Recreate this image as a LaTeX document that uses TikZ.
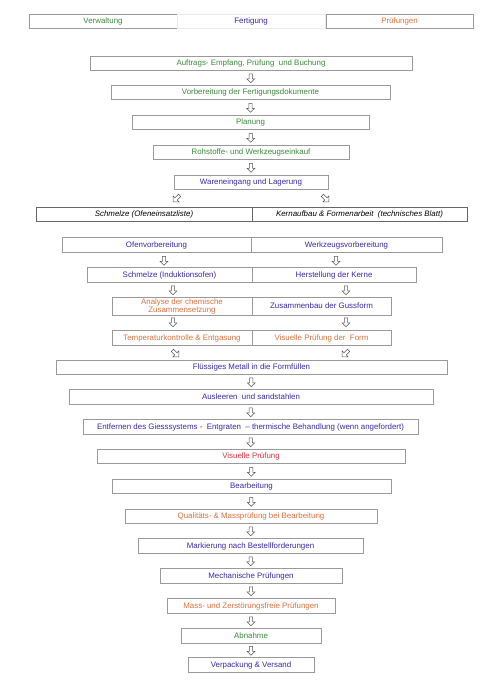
\documentclass[tikz,border=0pt]{standalone}
\usepackage{fontspec}
\setmainfont{Liberation Sans}
\usetikzlibrary{shapes.arrows,calc}
\definecolor{vgreen}{HTML}{3C8A3C}
\definecolor{vblue}{HTML}{3A2AA6}
\definecolor{vorange}{HTML}{D9733F}
\definecolor{vred}{HTML}{D8323C}
\definecolor{boxgray}{HTML}{9A9A9A}
\begin{document}
\begin{tikzpicture}[x=1pt,y=-1pt,
  box/.style={draw=boxgray, line width=0.45pt, fill=white, inner sep=0.5pt,
    text height=6.4pt, text depth=1.2pt,
    font=\fontsize{7.9}{8.4}\selectfont, align=center},
  gbox/.style={box, text=vgreen},
  bbox/.style={box, text=vblue},
  obox/.style={box, text=vorange},
  rbox/.style={box, text=vred},
  kbox/.style={box, text=black, line width=0.5pt, draw=black!60, font=\fontsize{7.9}{8.4}\selectfont\itshape},
  darr/.style={draw=black!65, line width=0.5pt, fill=white, single arrow,
    minimum height=9pt, inner sep=1.4pt, single arrow head extend=2.4pt,
    single arrow head indent=0pt},
  down/.style={darr, rotate=-90},
  dleft/.style={darr, rotate=-135},
  dright/.style={darr, rotate=-45},
]
\useasboundingbox (0,0) rectangle (500,688);

% header
\node[gbox, minimum width=148pt, minimum height=14pt] (verw) at (103,21) {Verwaltung};
\node[bbox, draw=black!8, minimum width=148pt, minimum height=14pt] (fert) at (251,21) {Fertigung};
\node[obox, minimum width=147pt, minimum height=14pt] (pruef) at (399.5,21) {Prüfungen};

% main upper chain
\node[gbox, minimum width=322pt, minimum height=14pt] (auf) at (251,63) {Auftrags- Empfang, Prüfung\ \ und Buchung};
\node[gbox, minimum width=279pt, minimum height=14pt] (vor) at (250.5,92) {Vorbereitung der Fertigungsdokumente};
\node[gbox, minimum width=237pt, minimum height=14pt] (plan) at (250.5,122) {Planung};
\node[gbox, minimum width=196pt, minimum height=14pt] (roh) at (251,152) {Rohstoffe- und Werkzeugseinkauf};
\node[bbox, minimum width=154pt, minimum height=14pt] (ware) at (251,182) {Wareneingang und Lagerung};

\node[down] (a1) at ($(auf.south)!0.5!(vor.north)$) {};
\node[down] (a2) at ($(vor.south)!0.5!(plan.north)$) {};
\node[down] (a3) at ($(plan.south)!0.5!(roh.north)$) {};
\node[down] (a4) at ($(roh.south)!0.5!(ware.north)$) {};

\node[dleft] (d1) at (177,198) {};
\node[dright] (d2) at (325,198) {};

% split rows
\node[kbox, minimum width=216pt, minimum height=14pt] (schm) at (144,214) {Schmelze (Ofeneinsatzliste)};
\node[kbox, minimum width=215pt, minimum height=14pt] (kern) at (359.5,214) {Kernaufbau \& Formenarbeit\ \ (technisches Blatt)};

\node[bbox, minimum width=189pt, minimum height=15pt] (ofen) at (156.5,244.5) {Ofenvorbereitung};
\node[bbox, minimum width=191pt, minimum height=15pt] (werk) at (346.5,244.5) {Werkzeugsvorbereitung};

\node[bbox, minimum width=165pt, minimum height=15pt] (induk) at (169.5,274.5) {Schmelze (Induktionsofen)};
\node[bbox, minimum width=164pt, minimum height=15pt] (kerne) at (334,274.5) {Herstellung der Kerne};

\node[obox, text height=, text depth=, minimum width=140pt, minimum height=18pt] (anal) at (182,306.5) {Analyse der chemische\\Zusammensetzung};
\node[bbox, minimum width=139pt, minimum height=18pt] (zus) at (321.5,306) {Zusammenbau der Gussform};

\node[obox, minimum width=140pt, minimum height=15pt] (temp) at (182,337.5) {Temperaturkontrolle \& Entgasung};
\node[obox, minimum width=139pt, minimum height=15pt] (visf) at (321.5,337.5) {Visuelle Prüfung der\ \ Form};

\node[down] (b1) at (164,260) {};
\node[down] (b2) at (336,260) {};
\node[down] (b3) at (173,289.5) {};
\node[down] (b4) at (346,289.5) {};
\node[down] (b5) at (173,321.5) {};
\node[down] (b6) at (346,321.5) {};

\node[dright] (d3) at (175,353) {};
\node[dleft] (d4) at (346,353) {};

% lower chain
\node[bbox, minimum width=391pt, minimum height=14pt] (flus) at (251.5,367) {Flüssiges Metall in die Formfüllen};
\node[bbox, minimum width=364pt, minimum height=15pt] (ausl) at (251,396.5) {Ausleeren\ \ und sandstahlen};
\node[bbox, minimum width=335pt, minimum height=15pt] (entf) at (250.5,426.5) {Entfernen des Giesssystems -\ \ Entgraten\ \ -- thermische Behandlung (wenn angefordert)};
\node[rbox, minimum width=308pt, minimum height=14pt] (visp) at (251,456) {Visuelle Prüfung};
\node[bbox, minimum width=279pt, minimum height=14pt] (bearb) at (251.5,486) {Bearbeitung};
\node[obox, minimum width=252pt, minimum height=14pt] (qual) at (251,516) {Qualitäts- \& Massprüfung bei Bearbeitung};
\node[bbox, minimum width=225pt, minimum height=15pt] (mark) at (250.5,545.5) {Markierung nach Bestellforderungen};
\node[bbox, minimum width=182pt, minimum height=15pt] (mech) at (251,575.5) {Mechanische Prüfungen};
\node[obox, minimum width=168pt, minimum height=15pt] (mass) at (251,605.5) {Mass- und Zerstörungsfreie Prüfungen};
\node[gbox, minimum width=140pt, minimum height=15pt] (abn) at (251,635.5) {Abnahme};
\node[bbox, minimum width=126pt, minimum height=15pt] (verp) at (251,664.5) {Verpackung \& Versand};

\node[down] (c1) at ($(flus.south)!0.5!(ausl.north)$) {};
\node[down] (c2) at ($(ausl.south)!0.5!(entf.north)$) {};
\node[down] (c3) at ($(entf.south)!0.5!(visp.north)$) {};
\node[down] (c4) at ($(visp.south)!0.5!(bearb.north)$) {};
\node[down] (c5) at ($(bearb.south)!0.5!(qual.north)$) {};
\node[down] (c6) at ($(qual.south)!0.5!(mark.north)$) {};
\node[down] (c7) at ($(mark.south)!0.5!(mech.north)$) {};
\node[down] (c8) at ($(mech.south)!0.5!(mass.north)$) {};
\node[down] (c9) at ($(mass.south)!0.5!(abn.north)$) {};
\node[down] (c10) at ($(abn.south)!0.5!(verp.north)$) {};
\end{tikzpicture}
\end{document}
